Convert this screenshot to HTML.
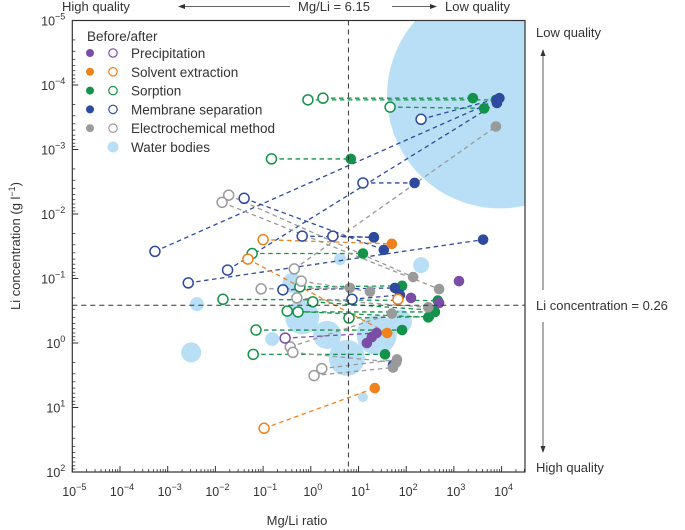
<!DOCTYPE html>
<html><head><meta charset="utf-8"><style>
body{margin:0;background:#fff;}
svg{display:block;font-family:"Liberation Sans",Arial,sans-serif;}
</style></head><body>
<svg id="chart" width="685" height="530" viewBox="0 0 685 530"></svg>
<script>
// ---- data (Mg/Li ratio, Li concentration g/l) ----
const sorpBeforeMgLi=[1.8,0.87,46,0.15,0.059,0.0144,0.59,1.1,0.32,0.54,0.071,0.062,6.3];
const sorpBeforeLi=[1.6e-4,1.7e-4,2.2e-4,1.4e-3,0.041,0.21,0.135,0.23,0.32,0.33,0.63,1.5,0.41];
const sorpAfterMgLi=[2500,7600,4300,6.9,12.4,460,82,350,290,400,82,36,300];
const sorpAfterLi=[1.6e-4,1.7e-4,2.3e-4,1.4e-3,0.041,0.22,0.13,0.31,0.40,0.33,0.63,1.5,0.39];

const membBeforeMgLi=[5.4e-4,0.0027,0.018,0.040,0.66,2.9,12.4,205,0.26,7.3,null];
const membBeforeLi=[0.038,0.117,0.074,0.0057,0.022,0.022,0.0033,3.4e-4,0.15,0.21,null];
const membAfterMgLi=[8000,4100,8000,34,21,21,150,9000,58,74,53];
const membAfterLi=[1.7e-4,0.025,1.9e-4,0.036,0.023,0.023,0.0033,1.6e-4,0.14,0.18,2.2];

const elecBeforeMgLi=[0.019,0.0138,0.45,0.091,0.63,0.51,1.7,1.17,0.37,0.42];
const elecBeforeLi=[0.0051,0.0066,0.071,0.145,0.11,0.20,2.5,3.2,1.15,1.4];
const elecAfterMgLi=[140,490,7600,6.6,17.4,290,64,53,50,62];
const elecAfterLi=[0.095,0.146,4.4e-4,0.14,0.16,0.28,1.8,2.4,0.35,2.0];

const solvBeforeMgLi=[0.10,0.048,67,0.105];
const solvBeforeLi=[0.025,0.05,0.21,21];
const solvAfterMgLi=[50,40,null,22];
const solvAfterLi=[0.029,0.70,null,5.0];

const precBeforeMgLi=[0.29,null,null,null,null,null];
const precBeforeLi=[0.84,null,null,null,null,null];
const precAfterMgLi=[24,1280,126,490,15,19];
const precAfterLi=[0.70,0.11,0.20,0.24,1.0,0.81];

const waterMgLi=[9300,0.0031,0.0041,0.66,2.2,5.7,24,0.155,12.4,205,4.1,0.41,74];
const waterLi=[1.45e-4,1.4,0.25,0.40,0.75,1.7,0.75,0.87,6.9,0.062,0.050,0.117,0.47];
const waterArea=[12769,100,49,289,196,324,400,49,25,64,36,100,144];

const xTickExp=[-5,-4,-3,-2,-1,0,1,2,3,4];
const yTickExp=[-5,-4,-3,-2,-1,0,1,2];
const mgLiThreshold=6.15, liThreshold=0.26;

// ---- axes ----
const NS="http://www.w3.org/2000/svg";
const svg=document.getElementById('chart');
const X0=72.3, XD=47.7, XL=72.3, XR=525;
const Y0=20.5, YD=64.5, YT=20.5, YB=472;
const sx=v=>X0+(Math.log10(v)+5)*XD;
const sy=v=>Y0+(Math.log10(v)+5)*YD;
function mk(tag,attrs,parent){const e=document.createElementNS(NS,tag);for(const k in attrs)e.setAttribute(k,attrs[k]);(parent||svg).appendChild(e);return e;}

const clip=mk('clipPath',{id:'pc'});mk('rect',{x:XL,y:YT,width:XR-XL,height:YB-YT},clip);
const plot=mk('g',{'clip-path':'url(#pc)'});



// water bodies
waterMgLi.forEach((v,i)=>{
  const c=mk('circle',{cx:sx(v),cy:sy(waterLi[i]),r:Math.sqrt(waterArea[i]),fill:'#b8dff5'},plot);
  
  
});

// threshold lines
const vl=mk('line',{x1:sx(mgLiThreshold),x2:sx(mgLiThreshold),y1:YT,y2:YB,stroke:'#333','stroke-width':1,'stroke-dasharray':'5 4'});


const hl=mk('line',{x1:XL,x2:XR,y1:sy(liThreshold),y2:sy(liThreshold),stroke:'#333','stroke-width':1,'stroke-dasharray':'5 4'});



const series=[
 ['sorption','#13934a',sorpBeforeMgLi,sorpBeforeLi,sorpAfterMgLi,sorpAfterLi],
 ['membrane','#2e4a9e',membBeforeMgLi,membBeforeLi,membAfterMgLi,membAfterLi],
 ['electrochemical','#9a9a9a',elecBeforeMgLi,elecBeforeLi,elecAfterMgLi,elecAfterLi],
 ['solvent','#f0821e',solvBeforeMgLi,solvBeforeLi,solvAfterMgLi,solvAfterLi],
 ['precipitation','#7a4ea6',precBeforeMgLi,precBeforeLi,precAfterMgLi,precAfterLi]];
const gL=mk('g',{},plot),gA=mk('g',{},plot),gB=mk('g',{},plot);
series.forEach(([nm,col,bx,by,ax,ay])=>{
  bx.forEach((_,i)=>{
    if(bx[i]!=null&&ax[i]!=null){
      const l=mk('line',{x1:sx(bx[i]),y1:sy(by[i]),x2:sx(ax[i]),y2:sy(ay[i]),stroke:col,'stroke-width':1.3,'stroke-dasharray':'4.5 3.5'},gL);
      
      
    }
    if(ax[i]!=null){
      const c=mk('circle',{cx:sx(ax[i]),cy:sy(ay[i]),r:5.3,fill:col},gA);
      
      
    }
    if(bx[i]!=null){
      const c=mk('circle',{cx:sx(bx[i]),cy:sy(by[i]),r:5,fill:'#fff',stroke:col,'stroke-width':1.5},gB);
      
      
    }
  });
});

// frame
const fr=mk('rect',{x:XL,y:YT,width:XR-XL,height:YB-YT,fill:'none',stroke:'#333','stroke-width':1.2});



// ticks
function lab(x,y,e,anchor,name){
  const t=mk('text',{x:x,y:y,'font-size':12.5,fill:'#333','text-anchor':anchor});
  
  
  t.appendChild(document.createTextNode('10'));
  const s=mk('tspan',{dy:-6,'font-size':9},t);s.textContent=(e<0?'\u2212'+(-e):''+e);
}
xTickExp.forEach(e=>{
  const x=X0+(e+5)*XD;
  mk('line',{x1:x,x2:x,y1:YB,y2:YB-6,stroke:'#333'});
  for(let k=2;k<10;k++){const xm=x+Math.log10(k)*XD;if(xm<XR)mk('line',{x1:xm,x2:xm,y1:YB,y2:YB-3,stroke:'#333','stroke-width':0.8});}
  lab(x+2,YB+24,e,'middle','x-tick-label');
});
yTickExp.forEach(e=>{
  const y=Y0+(e+5)*YD;
  mk('line',{x1:XL,x2:XL+6,y1:y,y2:y,stroke:'#333'});
  if(e<2)for(let k=2;k<10;k++){const ym=y+Math.log10(k)*YD;mk('line',{x1:XL,x2:XL+3,y1:ym,y2:ym,stroke:'#333','stroke-width':0.8});}
  lab(XL-7,y+5,e,'end','y-tick-label');
});

function txt(x,y,s,name,attrs){const t=mk('text',Object.assign({x:x,y:y,'font-size':13,fill:'#333'},attrs||{}));t.textContent=s;return t;}
txt(297,525,'Mg/Li ratio','x-axis-title',{'text-anchor':'middle'});
const yt=txt(0,0,'Li concentration (g l','y-axis-title',{'text-anchor':'middle',transform:'translate(20,246) rotate(-90)'});
const ts=mk('tspan',{dy:-5,'font-size':9},yt);ts.textContent='\u22121';
const ts2=mk('tspan',{dy:5},yt);ts2.textContent=')';

// top annotation
txt(62,11,'High quality','top-high-quality-label');
txt(334,11,'Mg/Li = 6.15','mg-li-threshold-label',{'text-anchor':'middle'});
txt(445,11,'Low quality','top-low-quality-label');
mk('line',{x1:290,x2:183,y1:6.5,y2:6.5,stroke:'#333','stroke-width':0.8});
mk('path',{d:'M178,6.5 l7,-2.5 v5 z',fill:'#333'});
mk('line',{x1:392,x2:432,y1:6.5,y2:6.5,stroke:'#333','stroke-width':0.8});
mk('path',{d:'M437,6.5 l-7,-2.5 v5 z',fill:'#333'});
// right annotation
txt(536,37,'Low quality','right-low-quality-label');
txt(536,310,'Li concentration = 0.26','li-threshold-label');
txt(536,472,'High quality','right-high-quality-label');
mk('line',{x1:543,x2:543,y1:54,y2:290,stroke:'#333','stroke-width':0.8});
mk('path',{d:'M543,49 l-2.5,7 h5 z',fill:'#333'});
mk('line',{x1:543,x2:543,y1:322,y2:448,stroke:'#333','stroke-width':0.8});
mk('path',{d:'M543,453 l-2.5,-7 h5 z',fill:'#333'});

// legend
const lg=mk('g',{});


const lt=mk('text',{x:87,y:41,'font-size':13.5,fill:'#333'},lg);lt.textContent='Before/after';


const legNames=['Precipitation','Solvent extraction','Sorption','Membrane separation','Electrochemical method'];
const legCols=['#7a4ea6','#f0821e','#13934a','#2e4a9e','#9a9a9a'];
legNames.forEach((n,i)=>{
  const y=53+i*18.8;
  const g=mk('g',{},lg);
  
  
  mk('circle',{cx:90,cy:y,r:4,fill:legCols[i]},g);
  mk('circle',{cx:113,cy:y,r:4.2,fill:'#fff',stroke:legCols[i],'stroke-width':1.2},g);
  const t=mk('text',{x:131,y:y+5,'font-size':13.5,fill:'#333'},g);t.textContent=n;
});
const gw=mk('g',{},lg);


mk('circle',{cx:113,cy:147,r:5.5,fill:'#b8dff5'},gw);
const tw=mk('text',{x:131,y:152,'font-size':13.5,fill:'#333'},gw);tw.textContent='Water bodies';
</script>
</body></html>
